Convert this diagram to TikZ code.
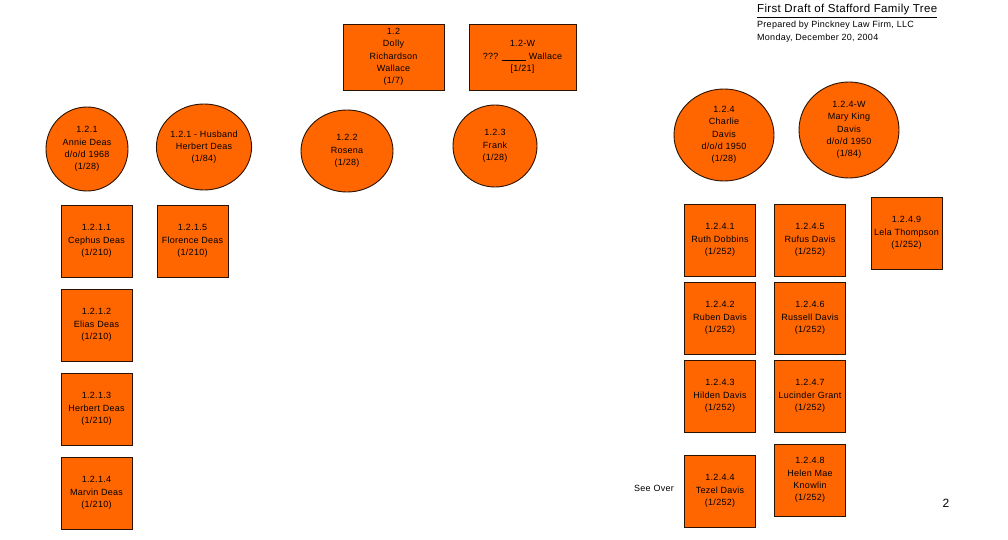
\documentclass[tikz,border=0pt]{standalone}
\usepackage{fontspec}
\setmainfont{Liberation Sans}[LetterSpace=3]
\usetikzlibrary{shapes.geometric}
\definecolor{famorange}{HTML}{FF6600}
\definecolor{famline}{HTML}{2A1200}
\tikzset{
  base/.style={draw=famline, line width=0.9pt, fill=famorange, align=center, inner sep=0pt,
     font=\fontsize{9}{12.3}\selectfont},
  sq/.style={base, rectangle, minimum width=71pt, minimum height=72pt},
  wide/.style={base, rectangle, minimum width=101pt, minimum height=66pt},
  oval/.style={base, ellipse},
  plain/.style={inner sep=0pt, font=\fontsize{9}{12}\selectfont}
}
\begin{document}
\begin{tikzpicture}[x=1pt,y=-1pt]
\useasboundingbox (0,0) rectangle (1008,540);
% title block
\node[plain, anchor=west, font=\fontsize{11.5}{13}\selectfont] (title) at (757,11) {\underline{First Draft of Stafford Family Tree}};
\node[plain, anchor=west] (prep) at (757,25) {Prepared by Pinckney Law Firm, LLC};
\node[plain, anchor=west] (date) at (757,38) {Monday, December 20, 2004};
% top boxes
\node[wide] (n12) at (393.5,57) {1.2\\Dolly\\Richardson\\Wallace\\(1/7)};
\node[wide, minimum width=107pt] (n12w) at (522.5,57) {1.2-W\\??? \underline{\hspace{24pt}} Wallace\\{[1/21]}};
% ovals
\node[oval, minimum width=82pt, minimum height=84pt] (n121) at (87,149) {1.2.1\\Annie Deas\\d/o/d 1968\\(1/28)};
\node[oval, minimum width=84pt, minimum height=86pt] (n121h) at (204,147) {1.2.1 - Husband\\Herbert Deas\\(1/84)};
\node[oval, minimum width=92pt, minimum height=82pt] (n122) at (347,151) {1.2.2\\Rosena\\(1/28)};
\node[oval, minimum width=84pt, minimum height=82pt] (n123) at (495,146) {1.2.3\\Frank\\(1/28)};
\node[oval, minimum width=100pt, minimum height=92pt] (n124) at (724,135) {1.2.4\\Charlie\\Davis\\d/o/d 1950\\(1/28)};
\node[oval, minimum width=100pt, minimum height=96pt] (n124w) at (849,130) {1.2.4-W\\Mary King\\Davis\\d/o/d 1950\\(1/84)};
% Deas children
\node[sq] (n1211) at (96.5,241) {1.2.1.1\\Cephus Deas\\(1/210)};
\node[sq] (n1215) at (192.5,241) {1.2.1.5\\Florence Deas\\(1/210)};
\node[sq] (n1212) at (96.5,325) {1.2.1.2\\Elias Deas\\(1/210)};
\node[sq] (n1213) at (96.5,409) {1.2.1.3\\Herbert Deas\\(1/210)};
\node[sq] (n1214) at (96.5,493) {1.2.1.4\\Marvin Deas\\(1/210)};
% Davis children
\node[sq] (n1241) at (720,240) {1.2.4.1\\Ruth Dobbins\\(1/252)};
\node[sq] (n1245) at (810,240) {1.2.4.5\\Rufus Davis\\(1/252)};
\node[sq] (n1249) at (906.5,233) {1.2.4.9\\Lela Thompson\\(1/252)};
\node[sq] (n1242) at (720,318) {1.2.4.2\\Ruben Davis\\(1/252)};
\node[sq] (n1246) at (810,318) {1.2.4.6\\Russell Davis\\(1/252)};
\node[sq] (n1243) at (720,396) {1.2.4.3\\Hilden Davis\\(1/252)};
\node[sq] (n1247) at (810,396) {1.2.4.7\\Lucinder Grant\\(1/252)};
\node[sq] (n1244) at (720,491) {1.2.4.4\\Tezel Davis\\(1/252)};
\node[sq] (n1248) at (810,480) {1.2.4.8\\Helen Mae\\Knowlin\\(1/252)};
% notes
\node[plain] (seeover) at (654,488) {See Over};
\node[plain, font=\fontsize{12}{14}\selectfont] (page) at (946,503) {2};
\end{tikzpicture}
\end{document}
